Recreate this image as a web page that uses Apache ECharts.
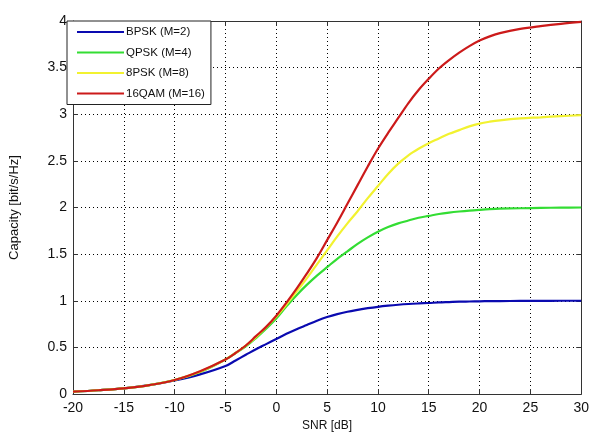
<!DOCTYPE html>
<html>
<head>
<meta charset="utf-8">
<script src="https://cdn.jsdelivr.net/npm/echarts@6/dist/echarts.min.js"></script>
<style>
html,body{margin:0;padding:0;background:#fff;}
#c{width:592px;height:437px;}
</style>
</head>
<body>
<div id="c"></div>
<script>
const snr = [-20, -17.5, -15, -12.5, -10, -7.5, -5, -4, -3, -2, -1, 0, 1, 2, 3, 4, 5, 6, 7, 8, 9, 10, 11, 12, 13, 14, 15, 16, 17, 18, 19, 20, 21, 22, 24, 26, 28, 30];
const bpsk  = [0.025, 0.04, 0.06, 0.095, 0.145, 0.21, 0.30, 0.36, 0.42, 0.48, 0.535, 0.59, 0.645, 0.695, 0.74, 0.785, 0.825, 0.857, 0.882, 0.902, 0.92, 0.935, 0.947, 0.957, 0.965, 0.971, 0.976, 0.982, 0.986, 0.99, 0.992, 0.994, 0.996, 0.997, 0.998, 0.999, 1.0, 1.0];
const qpsk  = [0.025, 0.04, 0.06, 0.095, 0.15, 0.235, 0.37, 0.44, 0.51, 0.60, 0.70, 0.81, 0.94, 1.06, 1.17, 1.27, 1.36, 1.45, 1.53, 1.61, 1.68, 1.74, 1.79, 1.83, 1.86, 1.89, 1.91, 1.93, 1.945, 1.957, 1.967, 1.975, 1.982, 1.987, 1.992, 1.996, 1.998, 2.0];
const psk8  = [0.025, 0.04, 0.06, 0.095, 0.15, 0.24, 0.37, 0.44, 0.52, 0.61, 0.715, 0.83, 0.96, 1.10, 1.24, 1.39, 1.54, 1.69, 1.83, 1.96, 2.10, 2.23, 2.36, 2.47, 2.56, 2.63, 2.69, 2.74, 2.79, 2.83, 2.87, 2.90, 2.92, 2.935, 2.955, 2.967, 2.98, 2.99];
const qam16 = [0.025, 0.04, 0.06, 0.095, 0.15, 0.245, 0.37, 0.44, 0.52, 0.62, 0.72, 0.84, 0.98, 1.13, 1.29, 1.46, 1.65, 1.84, 2.04, 2.24, 2.44, 2.63, 2.80, 2.96, 3.12, 3.26, 3.38, 3.49, 3.58, 3.66, 3.73, 3.79, 3.835, 3.87, 3.915, 3.945, 3.97, 3.99];
const names = ['BPSK (M=2)', 'QPSK (M=4)', '8PSK (M=8)', '16QAM (M=16)'];
const colors = ['#0a0ab0', '#33dd33', '#f2f230', '#cc1a1a'];
const xTicks = [-20, -15, -10, -5, 0, 5, 10, 15, 20, 25, 30];
const yTicks = [0, 0.5, 1, 1.5, 2, 2.5, 3, 3.5, 4];

const seriesVals = [bpsk, qpsk, psk8, qam16];
const font = 'Liberation Sans, Arial, sans-serif';
const chart = echarts.init(document.getElementById('c'));
const gridLine = {show: true, lineStyle: {color: '#000', type: [1, 3], width: 1}};
const tick = {show: true, inside: true, length: 5, lineStyle: {color: '#333'}};
const line = {show: true, onZero: false, lineStyle: {color: '#333'}};
chart.setOption({
  animation: false,
  backgroundColor: '#fff',
  grid: {left: 67, right: 5, top: 21, bottom: 38, show: false},
  legend: {
    left: 67, top: 21, orient: 'vertical',
    data: names,
    backgroundColor: '#fff', borderColor: '#222', borderWidth: 1,
    padding: [5, 6, 5, 10], itemGap: 8.5,
    itemWidth: 47, itemHeight: 2, icon: 'rect',
    textStyle: {fontFamily: font, fontSize: 11.5, color: '#111', padding: [0, 0, 0, -3]}
  },
  xAxis: [{
    type: 'value', min: -20, max: 30, interval: 5,
    name: 'SNR [dB]', nameLocation: 'middle', nameGap: 26,
    nameTextStyle: {fontFamily: font, fontSize: 12, color: '#111'},
    axisLine: line, axisTick: tick,
    axisLabel: {fontFamily: font, fontSize: 14, color: '#111', margin: 7,
      formatter: v => xTicks.includes(v) ? String(v) : ''},
    splitLine: gridLine
  }, {
    type: 'value', min: -20, max: 30, interval: 5, position: 'top',
    axisLine: line, axisTick: tick,
    axisLabel: {show: false}, splitLine: {show: false}
  }],
  yAxis: [{
    type: 'value', min: 0, max: 4, interval: 0.5,
    name: 'Capacity [bit/s/Hz]', nameLocation: 'middle', nameGap: 52, nameRotate: 90,
    nameTextStyle: {fontFamily: font, fontSize: 13, color: '#111'},
    axisLine: line, axisTick: tick,
    axisLabel: {fontFamily: font, fontSize: 14, color: '#111', margin: 6,
      formatter: v => yTicks.includes(v) ? String(v) : ''},
    splitLine: gridLine
  }, {
    type: 'value', min: 0, max: 4, interval: 0.5, position: 'right',
    axisLine: line, axisTick: tick,
    axisLabel: {show: false}, splitLine: {show: false}
  }],
  series: names.map((n, i) => ({
    name: n, type: 'line', smooth: 0.35, showSymbol: false, symbol: 'none',
    xAxisIndex: 0, yAxisIndex: 0,
    data: snr.map((x, j) => [x, seriesVals[i][j]]),
    lineStyle: {color: colors[i], width: 2.2},
    itemStyle: {color: colors[i]}
  }))
});
</script>
</body>
</html>
